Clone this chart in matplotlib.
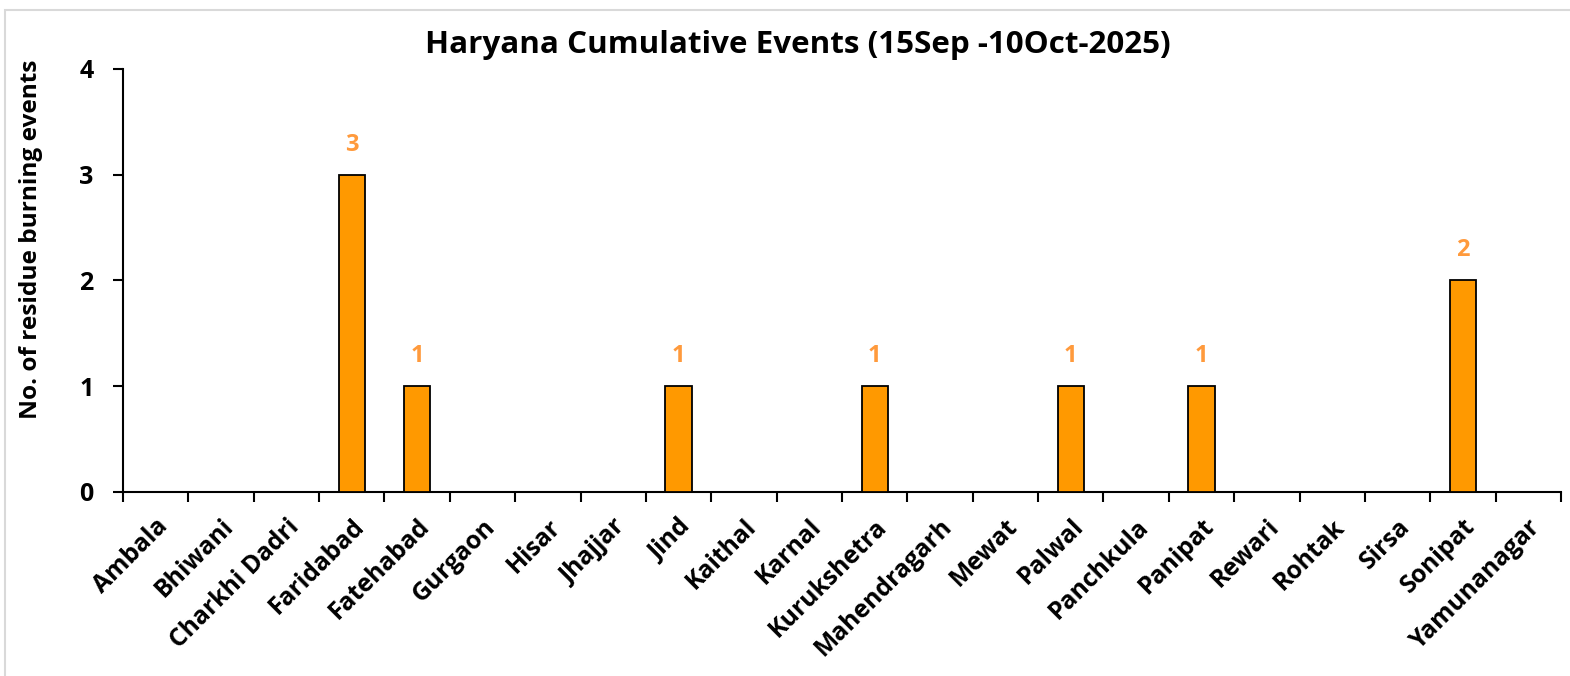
import numpy as np
import matplotlib.pyplot as plt
from matplotlib.patches import Rectangle

# district-wise cumulative residue burning events
districts = ["Ambala", "Bhiwani", "Charkhi Dadri", "Faridabad", "Fatehabad", "Gurgaon",
             "Hisar", "Jhajjar", "Jind", "Kaithal", "Karnal", "Kurukshetra",
             "Mahendragarh", "Mewat", "Palwal", "Panchkula", "Panipat", "Rewari",
             "Rohtak", "Sirsa", "Sonipat", "Yamunanagar"]
events = [0, 0, 0, 3, 1, 0, 0, 0, 1, 0, 0, 1, 0, 0, 1, 0, 1, 0, 0, 0, 2, 0]
yticks = [0, 1, 2, 3, 4]

plt.rcParams['font.family'] = ['Open Sans', 'DejaVu Sans']
plt.rcParams['font.weight'] = 'bold'

fig = plt.figure(figsize=(15.7, 6.76), dpi=100)
ax = fig.add_axes([0.0783, 0.2722, 0.9160, 0.6258])

# light grey chart border
fig.patches.append(Rectangle((0.003, -0.01), 1.2, 0.995, transform=fig.transFigure,
                             fill=False, edgecolor='#d9d9d9', linewidth=1.5))

x = np.arange(len(districts))
ax.bar(x, events, width=0.4, color='#ff9900', edgecolor='black', linewidth=1.3, zorder=3)

for xi, v in zip(x, events):
    if v > 0:
        ax.text(xi, v + 0.17, str(v), ha='center', va='bottom', color='#ff9a3c',
                fontsize=17, fontweight='bold')

ax.set_xlim(-0.5, len(districts) - 0.5)
ax.set_ylim(0, 4)
ax.set_yticks(yticks)
ax.set_yticklabels([str(t) for t in yticks], fontsize=18, fontweight='bold')
ax.set_xticks(x)
ax.set_xticklabels(districts, rotation=45, ha='right', rotation_mode='anchor',
                   fontsize=17.8, fontweight='bold')
ax.set_xticks(np.arange(-0.5, len(districts)), minor=True)
ax.tick_params(axis='x', which='major', length=0, pad=16)
ax.tick_params(axis='x', which='minor', length=7, width=1.5, direction='out')
ax.tick_params(axis='y', length=7, width=1.5, direction='out', pad=14)

for s in ['top', 'right']:
    ax.spines[s].set_visible(False)
ax.spines['left'].set_linewidth(1.5)
ax.spines['bottom'].set_linewidth(1.5)

ax.set_ylabel("No. of residue burning events", fontsize=17.6, fontweight='bold')
ax.yaxis.set_label_coords(-0.0557, 0.598)
fig.suptitle("Haryana Cumulative Events (15Sep -10Oct-2025)", x=0.508, y=0.955,
             fontsize=22.6, fontweight='bold')

fig.savefig("out.png", dpi=100)
